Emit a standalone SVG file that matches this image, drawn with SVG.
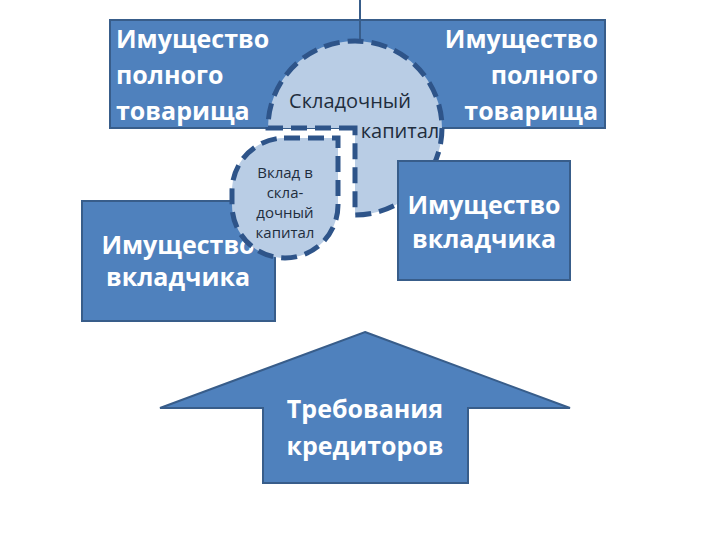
<svg xmlns="http://www.w3.org/2000/svg" width="720" height="540" viewBox="0 0 720 540">
<style>
.box{fill:#4f81bd;stroke:#385d8a;stroke-width:2}
.pie{fill:#b9cde5;stroke:#2e5489;stroke-width:5;stroke-dasharray:16 8}
.w{font-family:"Open Sans","Liberation Sans",sans-serif;font-weight:bold;fill:#fff;font-size:25px}
.d{font-family:"Open Sans","Liberation Sans",sans-serif;fill:#1f2d3d}
</style>
<rect width="720" height="540" fill="#fff"/>
<g id="top-left"><rect class="box" x="110" y="20" width="250" height="108"/>
<text class="w" x="116" y="48">Имущество</text><text class="w" x="116" y="84">полного</text><text class="w" x="116" y="120">товарища</text></g>
<g id="top-right"><rect class="box" x="360" y="20" width="245" height="108"/>
<line x1="360" y1="0" x2="360" y2="40" stroke="#385d8a" stroke-width="2"/>
<text class="w" x="598" y="48" text-anchor="end">Имущество</text><text class="w" x="598" y="84" text-anchor="end">полного</text><text class="w" x="598" y="120" text-anchor="end">товарища</text></g>
<g id="capital"><path class="pie" d="M355,128 H268 A87,87 0 1 1 355,215 Z"/>
<text class="d" x="350" y="108" font-size="20" text-anchor="middle">Складочный</text>
<text class="d" x="400" y="138" font-size="20" text-anchor="middle">капитал</text></g>
<g id="left-bottom"><rect class="box" x="82" y="201" width="193" height="120"/>
<text class="w" x="178" y="254" text-anchor="middle">Имущество</text><text class="w" x="178" y="286" text-anchor="middle">вкладчика</text></g>
<g id="contribution"><path class="pie" d="M284,138 H338 V205 A53,53 0 0 1 285,258 A53,53 0 0 1 232,205 V191 A53,53 0 0 1 284,138 Z"/>
<g class="d" font-size="15" text-anchor="middle"><text x="285" y="178">Вклад в</text><text x="285" y="198">скла-</text><text x="285" y="218">дочный</text><text x="285" y="238">капитал</text></g></g>
<g id="right-box"><rect class="box" x="398" y="161" width="172" height="119"/>
<text class="w" x="484" y="214" text-anchor="middle" font-size="23">Имущество</text><text class="w" x="484" y="248" text-anchor="middle" font-size="23">вкладчика</text></g>
<g id="arrow"><polygon class="box" points="365,332 570,408 468,408 468,483 263,483 263,408 160,408"/>
<text class="w" x="365" y="418" text-anchor="middle">Требования</text><text class="w" x="365" y="455" text-anchor="middle">кредиторов</text></g>
<g id="connectors"/>
</svg>
